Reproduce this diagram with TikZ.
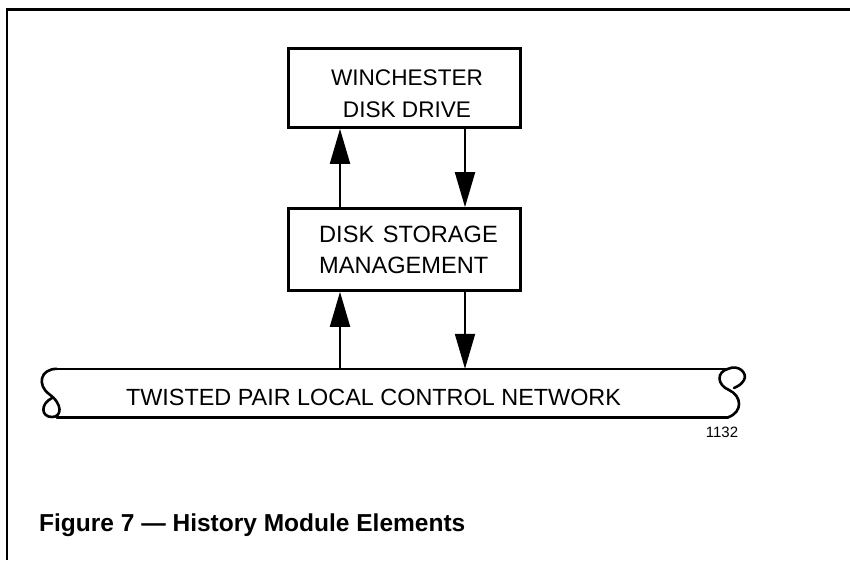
\documentclass[tikz,border=0pt]{standalone}
\usepackage{fontspec}
\setmainfont{Liberation Sans}
\usetikzlibrary{arrows.meta}
\begin{document}
\begin{tikzpicture}[x=1pt,y=-1pt,
  box/.style={draw, line width=2.7pt, inner sep=0pt},
  boxtext/.style={inner sep=0pt, font=\fontsize{22.6}{32.5}\selectfont},
  dsmfont/.style={inner sep=0pt, font=\fontsize{23.6}{31}\selectfont},
  arr/.style={line width=2pt, -{Triangle[length=35pt,width=20pt]}},
  netline/.style={line width=2.6pt, line cap=round, line join=round},
  frameline/.style={line cap=butt}]
\useasboundingbox (0,0) rectangle (850,560);
% frame
\draw[frameline, line width=3pt] (6,9.7) -- (850,9.7);
\draw[frameline, line width=2pt] (7,8.2) -- (7,560);
% boxes
\node[box, minimum width=232pt, minimum height=79pt] (wdd) at (404.5,88) {};
\node[boxtext, align=center] (wddtext) at (407,93.6) {WINCHESTER\\DISK DRIVE};
\node[box, minimum width=232pt, minimum height=82pt] (dsm) at (404.5,249.5) {};
\node[dsmfont, align=left, anchor=west] (dsmtext) at (319,250) {DISK\hspace{2pt} STORAGE\\MANAGEMENT};
% network
\node[inner sep=0pt, minimum width=671pt, minimum height=48pt] (net) at (392.5,393) {};
\draw[netline] (net.north west) -- (net.north east);
\draw[netline] (net.south west) -- (net.south east);
\draw[netline] (net.north west) .. controls (40,369) and (37,385) .. (49,394)
  .. controls (63,404) and (62,417) .. (52,417)
  .. controls (41,417) and (40,404) .. (52,398);
\draw[netline] (net.north east) .. controls (716,372) and (717,385) .. (729,390)
  .. controls (742,396) and (743,412) .. (net.south east);
\draw[netline] (net.north east) .. controls (738,364) and (748,373) .. (744,380)
  .. controls (741,385) and (738,386) .. (734,388);
\node[inner sep=0pt, font=\fontsize{23.4}{28}\selectfont] (nettext) at (373.5,397.3) {TWISTED PAIR LOCAL CONTROL NETWORK};
\node[inner sep=0pt, font=\fontsize{15}{18}\selectfont] (fignum) at (722,432) {1132};
% arrows
\coordinate (xl) at (340,0);
\coordinate (xr) at (465,0);
\draw[arr] (dsm.north -| xl) -- (wdd.south -| xl);
\draw[arr] (wdd.south -| xr) -- (dsm.north -| xr);
\draw[arr] (net.north -| xl) -- (dsm.south -| xl);
\draw[arr] (dsm.south -| xr) -- (net.north -| xr);
% caption
\node[inner sep=0pt, anchor=base west, font=\fontsize{24.5}{28}\selectfont\bfseries] (caption) at (39,531) {Figure 7 — History Module Elements};
\end{tikzpicture}
\end{document}
